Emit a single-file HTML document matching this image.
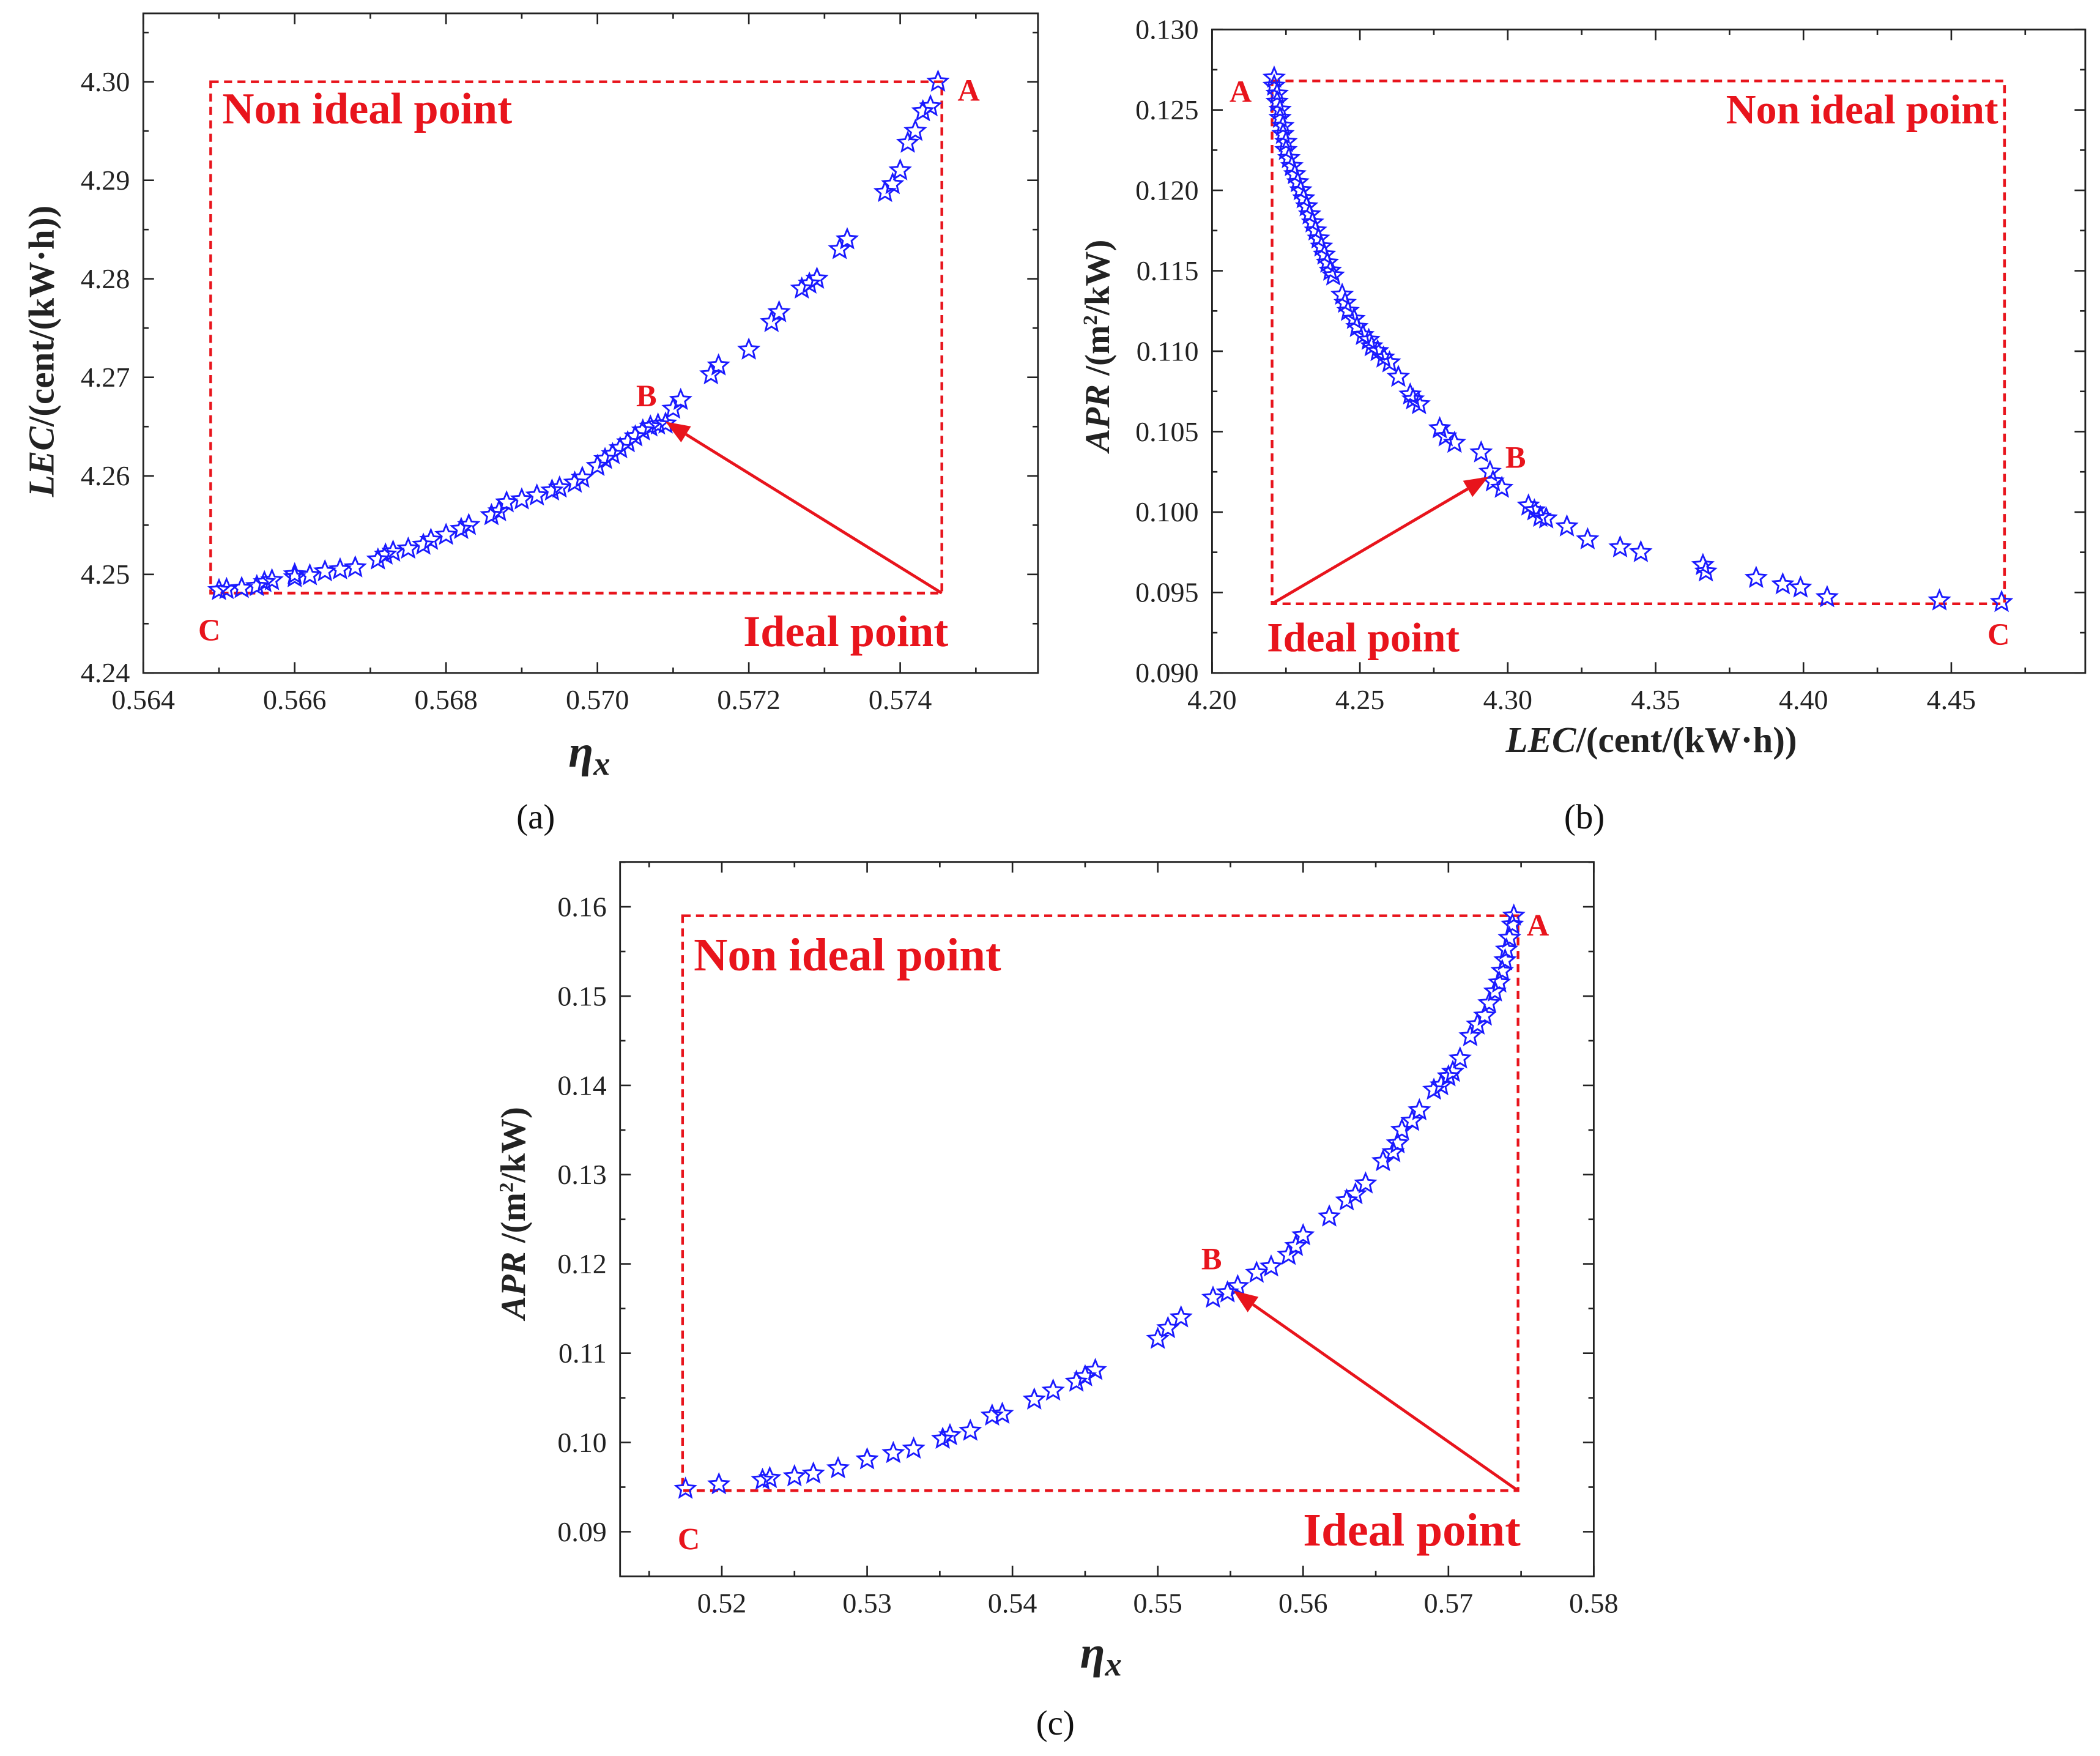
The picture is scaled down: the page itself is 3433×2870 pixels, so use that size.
<!DOCTYPE html>
<html><head><meta charset="utf-8"><style>html,body{margin:0;padding:0;background:#fff}svg{display:block}</style></head>
<body>
<svg id="fig" width="3433" height="2870" viewBox="0 0 1568 1310" preserveAspectRatio="none" xmlns="http://www.w3.org/2000/svg" font-family="'Liberation Serif', serif"></svg>
<script>
const aEta=[0.5650,0.5651,0.5653,0.5655,0.5656,0.5657,0.5660,0.5660,0.5662,0.5664,0.5666,0.5668,0.5671,0.5672,0.5673,0.5675,0.5677,0.5678,0.5680,0.5682,0.5683,0.5686,0.5687,0.5688,0.5690,0.5692,0.5694,0.5695,0.5697,0.5698,0.5700,0.5701,0.5702,0.5703,0.5704,0.5705,0.5706,0.5707,0.5708,0.5709,0.5710,0.5711,0.5715,0.5716,0.5720,0.5723,0.5724,0.5727,0.5728,0.5729,0.5732,0.5733,0.5738,0.5739,0.5740,0.5741,0.5742,0.5743,0.5744,0.5745];
const aLec=[4.2484,4.2485,4.2486,4.2488,4.2492,4.2494,4.2497,4.2500,4.2499,4.2503,4.2505,4.2507,4.2515,4.2520,4.2523,4.2526,4.2530,4.2535,4.2540,4.2546,4.2550,4.2560,4.2564,4.2573,4.2576,4.2580,4.2585,4.2588,4.2593,4.2598,4.2610,4.2617,4.2622,4.2628,4.2634,4.2640,4.2646,4.2650,4.2652,4.2653,4.2668,4.2677,4.2703,4.2712,4.2728,4.2756,4.2766,4.2790,4.2795,4.2800,4.2830,4.2840,4.2888,4.2896,4.2910,4.2938,4.2950,4.2970,4.2975,4.3000];
const bLec=[4.221,4.221,4.222,4.222,4.223,4.223,4.224,4.224,4.225,4.225,4.226,4.227,4.228,4.229,4.230,4.231,4.232,4.233,4.234,4.235,4.236,4.237,4.238,4.239,4.240,4.241,4.244,4.245,4.246,4.248,4.249,4.251,4.253,4.254,4.256,4.258,4.260,4.263,4.267,4.268,4.270,4.277,4.279,4.282,4.291,4.294,4.295,4.298,4.307,4.309,4.311,4.313,4.320,4.327,4.338,4.345,4.366,4.367,4.384,4.393,4.399,4.408,4.446,4.467];
const bApr=[0.1270,0.1265,0.1260,0.1255,0.1250,0.1245,0.1240,0.1235,0.1230,0.1225,0.1220,0.1215,0.1210,0.1205,0.1200,0.1195,0.1190,0.1185,0.1180,0.1175,0.1170,0.1165,0.1160,0.1155,0.1150,0.1147,0.1135,0.1130,0.1125,0.1120,0.1115,0.1110,0.1107,0.1103,0.1100,0.1096,0.1093,0.1084,0.1073,0.1070,0.1067,0.1052,0.1047,0.1043,0.1037,0.1025,0.1019,0.1015,0.1004,0.1001,0.0997,0.0996,0.0991,0.0983,0.0978,0.0975,0.0967,0.0963,0.0959,0.0955,0.0953,0.0947,0.0945,0.0944];
const cEta=[0.5175,0.5198,0.5228,0.5233,0.5250,0.5263,0.5280,0.5300,0.5318,0.5332,0.5352,0.5357,0.5371,0.5386,0.5393,0.5415,0.5428,0.5444,0.5450,0.5457,0.5500,0.5507,0.5516,0.5538,0.5548,0.5555,0.5568,0.5578,0.5590,0.5595,0.5600,0.5618,0.5630,0.5636,0.5643,0.5655,0.5662,0.5665,0.5668,0.5675,0.5680,0.5690,0.5695,0.5700,0.5703,0.5708,0.5715,0.5720,0.5725,0.5728,0.5732,0.5735,0.5737,0.5739,0.5740,0.5742,0.5744,0.5745];
const cApr=[0.0948,0.0953,0.0958,0.0960,0.0962,0.0965,0.0971,0.0981,0.0988,0.0993,0.1004,0.1008,0.1013,0.1030,0.1032,0.1048,0.1058,0.1068,0.1074,0.1081,0.1116,0.1128,0.1140,0.1162,0.1168,0.1175,0.1190,0.1197,0.1210,0.1220,0.1232,0.1253,0.1271,0.1278,0.1290,0.1315,0.1325,0.1335,0.1350,0.1360,0.1372,0.1395,0.1400,0.1410,0.1415,0.1430,0.1455,0.1468,0.1478,0.1492,0.1505,0.1515,0.1528,0.1540,0.1552,0.1565,0.1580,0.1590];
const aXTicks=[0.564,0.566,0.568,0.570,0.572,0.574];
const aXLabels=["0.564","0.566","0.568","0.570","0.572","0.574"];
const aYTicks=[4.24,4.25,4.26,4.27,4.28,4.29,4.30];
const aYLabels=["4.24","4.25","4.26","4.27","4.28","4.29","4.30"];
const bXTicks=[4.20,4.25,4.30,4.35,4.40,4.45];
const bXLabels=["4.20","4.25","4.30","4.35","4.40","4.45"];
const bYTicks=[0.090,0.095,0.100,0.105,0.110,0.115,0.120,0.125,0.130];
const bYLabels=["0.090","0.095","0.100","0.105","0.110","0.115","0.120","0.125","0.130"];
const cXTicks=[0.52,0.53,0.54,0.55,0.56,0.57,0.58];
const cXLabels=["0.52","0.53","0.54","0.55","0.56","0.57","0.58"];
const cYTicks=[0.09,0.10,0.11,0.12,0.13,0.14,0.15,0.16];
const cYLabels=["0.09","0.10","0.11","0.12","0.13","0.14","0.15","0.16"];

const NS="http://www.w3.org/2000/svg";
const fig=document.getElementById('fig');
function mk(tag,attrs,parent,txt){const e=document.createElementNS(NS,tag);for(const k in attrs)e.setAttribute(k,attrs[k]);if(txt!==undefined)e.textContent=txt;parent.appendChild(e);return e;}
function star(cx,cy,r){let p=[];for(let i=0;i<10;i++){const a=-Math.PI/2+i*Math.PI/5;const rr=i%2?r*0.45:r;p.push((cx+rr*Math.cos(a)).toFixed(2)+','+(cy+rr*Math.sin(a)).toFixed(2));}return p.join(' ');}

function panel(o){
  const g=mk('g',{},fig);
  
  
  const X=v=>o.L+(v-o.x0)/(o.x1-o.x0)*(o.R-o.L);
  const Y=v=>o.B-(v-o.y0)/(o.y1-o.y0)*(o.B-o.T);
  const frame=mk('rect',{x:o.L,y:o.T,width:o.R-o.L,height:o.B-o.T,fill:'none',stroke:'#222','stroke-width':1.3},g);
  
  
  const tg=mk('g',{stroke:'#222','stroke-width':1.2},g);
  
  
  const xs=o.xt[1]-o.xt[0], ys=o.yt[1]-o.yt[0];
  for(let v=o.xt[0]-xs;v<=o.x1+1e-9;v+=xs/2){
    if(v<o.x0-1e-9)continue;const major=Math.abs(((v-o.xt[0])/xs)-Math.round((v-o.xt[0])/xs))<1e-6;const l=major?8:4;const x=X(v);
    mk('line',{x1:x,y1:o.B,x2:x,y2:o.B-l},tg);mk('line',{x1:x,y1:o.T,x2:x,y2:o.T+l},tg);
  }
  for(let v=o.yt[0]-ys;v<=o.y1+1e-9;v+=ys/2){
    if(v<o.y0-1e-9)continue;const major=Math.abs(((v-o.yt[0])/ys)-Math.round((v-o.yt[0])/ys))<1e-6;const l=major?8:4;const y=Y(v);
    mk('line',{x1:o.L,y1:y,x2:o.L+l,y2:y},tg);mk('line',{x1:o.R,y1:y,x2:o.R-l,y2:y},tg);
  }
  o.xt.forEach((v,i)=>{const t=mk('text',{x:X(v),y:o.B+27,'font-size':21,'text-anchor':'middle',fill:'#222'},g,o.xl[i]);
    });
  o.yt.forEach((v,i)=>{const t=mk('text',{x:o.L-10,y:Y(v)+7,'font-size':21,'text-anchor':'end',fill:'#222'},g,o.yl[i]);
    });
  const bx=mk('rect',{x:X(o.box[0]),y:Y(o.box[3]),width:X(o.box[1])-X(o.box[0]),height:Y(o.box[2])-Y(o.box[3]),fill:'none',stroke:'#e8141c','stroke-width':2,'stroke-dasharray':'6,4'},g);
  
  const pg=mk('g',{fill:'none',stroke:'#1a1aff','stroke-width':1.3},g);
  
  o.xs.forEach((v,i)=>{const s=mk('polygon',{points:star(X(v),Y(o.ys[i]),7.5)},pg);
    });
  const ar=o.arrow;const x1=X(ar[0]),y1=Y(ar[1]),x2=X(ar[2]),y2=Y(ar[3]);
  const ang=Math.atan2(y2-y1,x2-x1);const hl=18,hw=7;
  const bxp=x2-hl*Math.cos(ang),byp=y2-hl*Math.sin(ang);
  const al=mk('line',{x1:x1,y1:y1,x2:bxp,y2:byp,stroke:'#e8141c','stroke-width':2.2},g);
  
  const ah=mk('polygon',{points:`${x2},${y2} ${bxp+hw*Math.sin(ang)},${byp-hw*Math.cos(ang)} ${bxp-hw*Math.sin(ang)},${byp+hw*Math.cos(ang)}`,fill:'#e8141c'},g);
  
  o.texts.forEach(t=>{const e=mk('text',{x:t[0],y:t[1],'font-size':t[3],'font-weight':'bold',fill:'#e8141c','text-anchor':t[4]||'start'},g,t[2]);
    });
  return g;
}
panel({name:'panel-a',L:107,R:775,T:10,B:502,x0:0.564,x1:0.57582,y0:4.24,y1:4.30694,xt:aXTicks,xl:aXLabels,yt:aYTicks,yl:aYLabels,
  box:[0.56489,0.57455,4.2481,4.30],xs:aEta,ys:aLec,arrow:[0.57455,4.2481,0.5709,4.2655],
  texts:[[166,92,'Non ideal point',33,'start','non-ideal-label'],[715,75,'A',23,'start','point-a-label'],[475,303,'B',23,'start','point-b-label'],[148,478,'C',23,'start','point-c-label'],[555,482,'Ideal point',33,'start','ideal-label']]});
panel({name:'panel-b',L:905,R:1557,T:22,B:502,x0:4.20,x1:4.4953,y0:0.090,y1:0.130,xt:bXTicks,xl:bXLabels,yt:bYTicks,yl:bYLabels,
  box:[4.2203,4.4680,0.0943,0.1268],xs:bLec,ys:bApr,arrow:[4.2203,0.0943,4.2935,0.1022],
  texts:[[1492,92,'Non ideal point',31,'end','non-ideal-label'],[918,76,'A',23,'start','point-a-label'],[1124,349,'B',23,'start','point-b-label'],[1484,481,'C',23,'start','point-c-label'],[946,486,'Ideal point',31,'start','ideal-label']]});
panel({name:'panel-c',L:463,R:1190,T:643,B:1176,x0:0.5130,x1:0.58,y0:0.0850,y1:0.16503,xt:cXTicks,xl:cXLabels,yt:cYTicks,yl:cYLabels,
  box:[0.5173,0.57479,0.0946,0.1590],xs:cEta,ys:cApr,arrow:[0.57479,0.0946,0.5552,0.1170],
  texts:[[518,724,'Non ideal point',35,'start','non-ideal-label'],[1140,698,'A',23,'start','point-a-label'],[897,947,'B',23,'start','point-b-label'],[506,1156,'C',23,'start','point-c-label'],[973,1153,'Ideal point',35,'start','ideal-label']]});

function title(x,y,rot,parts,name,size){
  const t=mk('text',{x:x,y:y,'font-size':size||23,'font-weight':'bold','text-anchor':'middle',fill:'#222',transform:rot?`rotate(-90 ${x} ${y})`:''},fig);
  
  parts.forEach(p=>{mk('tspan',p[1]||{},t,p[0]);});
}
title(40,262,true,[['LEC',{'font-style':'italic'}],['/(cent/(kW·h))']],'y-axis-title-a',27);
title(1233,561,false,[['LEC',{'font-style':'italic'}],['/(cent/(kW·h))']],'x-axis-title-b',27);
title(828,258,true,[['APR',{'font-style':'italic'}],[' /(m'],['2',{'font-size':15,dy:-9}],['/kW)',{dy:9}]],'y-axis-title-b',26);
title(392,905,true,[['APR',{'font-style':'italic'}],[' /(m'],['2',{'font-size':15,dy:-9}],['/kW)',{dy:9}]],'y-axis-title-c',26);
title(440,572,false,[['η',{'font-style':'italic','font-size':34}],['x',{'font-style':'italic','font-size':25,dy:6}]],'x-axis-title-a');
title(822,1244,false,[['η',{'font-style':'italic','font-size':34}],['x',{'font-style':'italic','font-size':25,dy:6}]],'x-axis-title-c');
[[400,618,'(a)','caption-a'],[1183,618,'(b)','caption-b'],[788,1294,'(c)','caption-c']].forEach(c=>{
  const t=mk('text',{x:c[0],y:c[1],'font-size':26,'text-anchor':'middle',fill:'#111'},fig,c[2]);
  });
</script>
</body></html>
